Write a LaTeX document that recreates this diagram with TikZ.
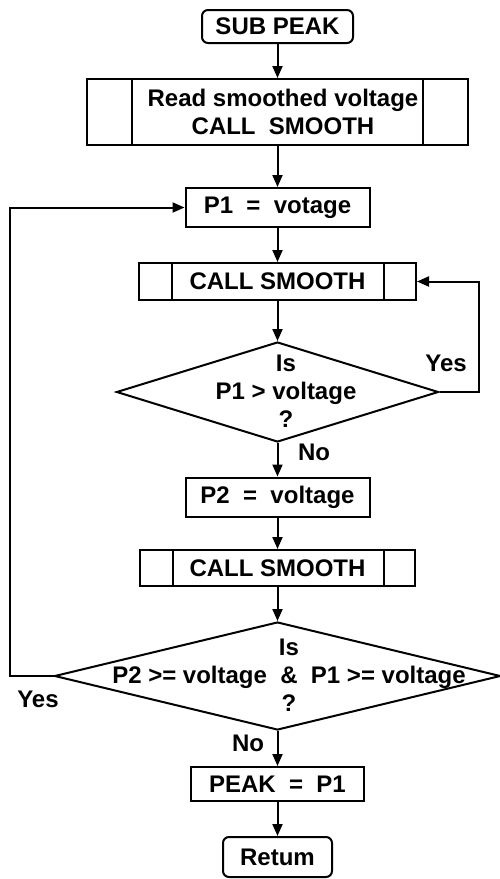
\documentclass[tikz,border=0pt]{standalone}
\usepackage{fontspec}
\setmainfont{Liberation Sans}
\usetikzlibrary{arrows.meta,shapes.geometric}

\begin{document}
\begin{tikzpicture}[x=1pt, y=-1pt, line width=2pt, >={Triangle[length=12pt,width=10pt]},
	every node/.style={font=\fontsize{24}{28}\selectfont\bfseries},
	box/.style={draw, rectangle, inner sep=0pt},
	term/.style={box, rounded corners=6pt},
	test/.style={draw, diamond, inner sep=0pt}]

	\useasboundingbox (0,0) rectangle (500,879);

	% blocks down the middle
	\node[term, minimum width=151pt, minimum height=33pt] (start) at (277.5,26.5) {SUB PEAK};
	\node[box, minimum width=381pt, minimum height=66pt] (read) at (277.5,112) {};
	\node[align=center] (readtxt) at (283,111.5) {Read smoothed voltage\\CALL\ \ SMOOTH};
	\draw ([xshift=46pt]read.north west) -- ([xshift=46pt]read.south west);
	\draw ([xshift=-46pt]read.north east) -- ([xshift=-46pt]read.south east);

	\node[box, minimum width=184pt, minimum height=39pt] (p1) at (277.5,207.5) {P1\ \ =\ \ votage};

	\node[box, minimum width=277pt, minimum height=37pt] (cs1) at (277.5,281.5) {CALL SMOOTH};
	\draw ([xshift=34pt]cs1.north west) -- ([xshift=34pt]cs1.south west);
	\draw ([xshift=-33pt]cs1.north east) -- ([xshift=-33pt]cs1.south east);

	\node[test, minimum width=322pt, minimum height=100pt] (d1) at (277.5,392) {};
	\node[align=center] (d1txt) at (286,391) {Is\\P1 > voltage\\?};

	\node[box, minimum width=184pt, minimum height=39pt] (p2) at (277.5,497) {P2\ \ =\ \ voltage};

	\node[box, minimum width=275pt, minimum height=36pt] (cs2) at (277.5,568) {CALL SMOOTH};
	\draw ([xshift=34pt]cs2.north west) -- ([xshift=34pt]cs2.south west);
	\draw ([xshift=-32pt]cs2.north east) -- ([xshift=-32pt]cs2.south east);

	\node[test, minimum width=446pt, minimum height=108pt] (d2) at (277.5,676) {};
	\node[align=center] (d2txt) at (289,675.5) {Is\\P2 >= voltage\ \ \&\ \ P1 >= voltage\\?};

	\node[box, minimum width=173pt, minimum height=34pt] (peak) at (277.5,784) {PEAK\ \ =\ \ P1};
	\node[term, minimum width=109pt, minimum height=40pt] (stop) at (277.5,857) {Retum};

	% labels
	\node (yes1) at (446,363) {Yes};
	\node (no1) at (314,452) {No};
	\node (yes2) at (38,699) {Yes};
	\node (no2) at (248,743) {No};

	\coordinate (y1) at (479,392);
	\coordinate (y2) at (10,676);

	% arrows
	\draw[->] (start) -- (read);
	\draw[->] (read) -- (p1);
	\draw[->] (p1) -- (cs1);
	\draw[->] (cs1) -- (d1);
	\draw[->] (d1) -- (p2);
	\draw[->] (p2) -- (cs2);
	\draw[->] (cs2) -- (d2);
	\draw[->] (d2) -- (peak);
	\draw[->] (peak) -- (stop);
	\draw[->] (d1.east) -- (y1) |- (cs1.east);
	\draw[->] (d2.west) -- (y2) |- (p1.west);

\end{tikzpicture}
\end{document}
